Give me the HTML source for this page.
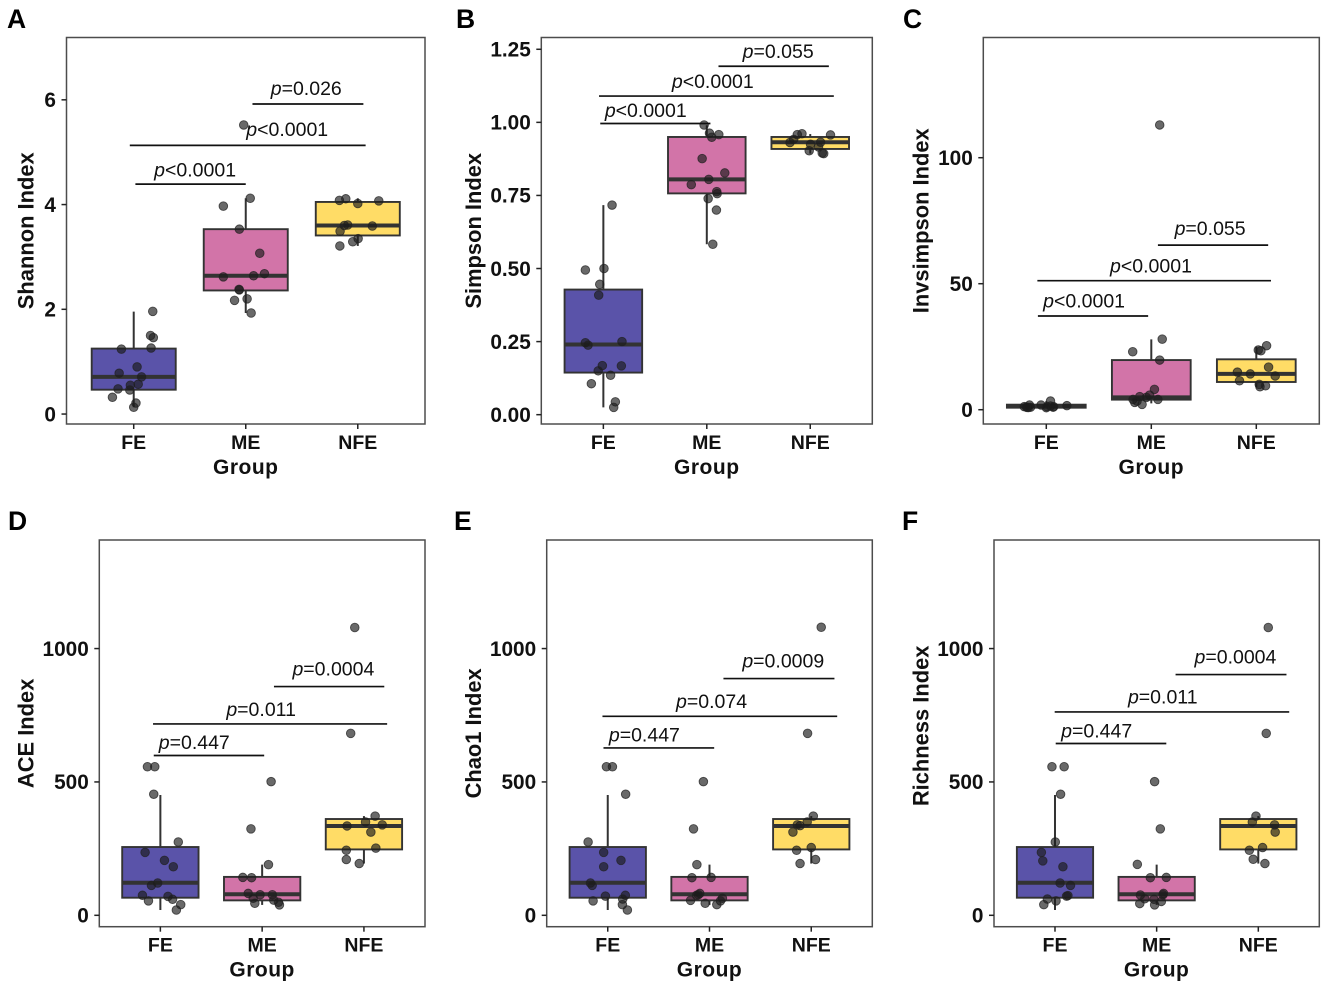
<!DOCTYPE html>
<html lang="en">
<head>
<meta charset="utf-8">
<title>Alpha diversity box plots</title>
<style>
html,body{margin:0;padding:0;background:#fff;width:1325px;height:987px;overflow:hidden}
svg{display:block;font-family:"Liberation Sans",Arial,sans-serif;filter:blur(0.35px)}
</style>
</head>
<body>
<svg id="figure" xmlns="http://www.w3.org/2000/svg" width="1325" height="987" viewBox="0 0 1325 987"></svg>
<script>
const groups = ['FE', 'ME', 'NFE'];

/* Panel A: Shannon */
const shannonValues = [
  [1.96,1.50,1.46,1.24,1.26,0.90,0.78,0.71,0.55,0.57,0.48,0.46,0.32,0.21,0.13],
  [5.52,4.12,3.97,3.53,3.07,2.62,2.64,2.68,2.38,2.37,2.17,2.20,1.93],
  [4.08,4.11,4.02,4.07,3.60,3.61,3.59,3.49,3.35,3.29,3.21]
];
const shannonJitter = [
  [0.17,0.15,0.175,-0.11,0.155,0.03,-0.13,0.07,-0.03,0.04,-0.14,-0.035,-0.19,0.02,0],
  [-0.018,0.04,-0.2,-0.057,0.125,-0.2,0.07,0.167,-0.06,-0.057,-0.1,0.012,0.048],
  [-0.164,-0.107,0,0.1875,-0.12,-0.09,0.13,-0.158,0.003,-0.045,-0.16]
];
const shannonBoxes = [[0.13,0.465,0.71,1.25,1.955],[1.93,2.36,2.64,3.53,4.12],[3.21,3.41,3.6,4.05,4.12]];
const shannonTicks = [0,2,4,6];
const shannonTickLabels = ['0','2','4','6'];
const shannonPValues = ['p=0.026','p<0.0001','p<0.0001'];
const shannonBracketLevels = [5.92,5.13,4.39];
const shannonBracketStarts = [2.06,0.965,1.015];
const shannonBracketEnds = [3.05,3.07,2.0];
const shannonLabelCenters = [2.54,2.37,1.548];

/* Panel B: Simpson */
const simpsonValues = [
  [0.717,0.495,0.5,0.446,0.409,0.246,0.238,0.25,0.168,0.167,0.15,0.135,0.106,0.044,0.025],
  [0.991,0.963,0.958,0.949,0.876,0.827,0.805,0.787,0.763,0.756,0.739,0.7,0.583],
  [0.957,0.961,0.958,0.942,0.931,0.932,0.925,0.903,0.895,0.893,0.916]
];
const simpsonJitter = [
  [0.084,-0.174,0.006,-0.035,-0.045,-0.174,-0.148,0.18,-0.01,0.174,-0.05,0.07,-0.116,0.116,0.1],
  [-0.026,0.026,0.116,0.048,-0.045,0.174,0.019,-0.15,0.096,0.1,0.013,0.093,0.058],
  [0.196,-0.08,-0.125,-0.16,-0.196,0.1,0.003,-0.01,0.116,0.13,0.08]
];
const simpsonBoxes = [[0.025,0.144,0.24,0.428,0.717],[0.583,0.757,0.805,0.95,0.99],[0.893,0.909,0.932,0.95,0.96]];
const simpsonTicks = [0,0.25,0.5,0.75,1,1.25];
const simpsonTickLabels = ['0.00','0.25','0.50','0.75','1.00','1.25'];
const simpsonPValues = ['p=0.055','p<0.0001','p<0.0001'];
const simpsonBracketLevels = [1.192,1.09,0.996];
const simpsonBracketStarts = [2.113,0.958,0.97];
const simpsonBracketEnds = [3.18,3.228,2.035];
const simpsonLabelCenters = [2.69,2.058,1.41];

/* Panel C: Invsimpson */
const invsimpsonValues = [
  [1.85,1.2,0.93,1.0,1.85,3.44,1.2,1.45,1.2,1.6,0.9,1.1,0.8,1.0],
  [113,28,23,19.7,8.07,5.8,5.2,4.9,4.1,4.1,3.4,2.9,2.1],
  [25.4,23.4,23.7,16.9,14.9,14.2,13.4,11.5,10.05,9.1,9.5]
];
const invsimpsonJitter = [
  [-0.16,-0.21,-0.183,-0.15,-0.05,0.04,0.006,0.04,0.07,0.196,-0.17,-0.19,0,0.065],
  [0.08,0.104,-0.177,0.08,0.03,-0.016,-0.11,-0.047,0.063,-0.174,-0.136,-0.158,-0.088],
  [0.098,0.044,0.019,0.117,-0.18,-0.057,0.18,-0.16,0.028,0.035,0.088]
];
const invsimpsonBoxes = [[0.9,0.8,1.45,2,3.4],[2.5,4,4.9,19.7,27.9],[9,11,14.2,20,25]];
const invsimpsonTicks = [0,50,100];
const invsimpsonTickLabels = ['0','50','100'];
const invsimpsonPValues = ['p=0.055','p<0.0001','p<0.0001'];
const invsimpsonBracketLevels = [65.3,51.2,37.2];
const invsimpsonBracketStarts = [2.063,0.915,0.92];
const invsimpsonBracketEnds = [3.113,3.14,1.97];
const invsimpsonLabelCenters = [2.56,1.997,1.36];

/* Panel D: ACE */
const aceValues = [
  [557,557,454,275,236,206,182,121,112,75,71,54,60,40,20],
  [501,324,190,142,141,82,77,77,64,57,49,45,39],
  [1079,682,372,350,339,335,312,244,252,209,194]
];
const aceJitter = [
  [-0.127,-0.055,-0.065,0.176,-0.15,0.04,0.127,-0.026,-0.088,-0.176,0.075,-0.117,0.12,0.2,0.157],
  [0.088,-0.11,0.062,-0.19,-0.104,-0.137,-0.02,0.1,-0.088,0.114,0.16,-0.072,0.17],
  [-0.09,-0.13,0.11,0.016,0.18,-0.166,0.068,-0.173,0.117,-0.173,-0.046]
];
const aceBoxes = [[20,66,122,256,451],[39,56,79,144,190],[194,247,335,361,372]];
const aceTicks = [0,500,1000];
const aceTickLabels = ['0','500','1000'];
const acePValues = ['p=0.0004','p=0.011','p=0.447'];
const aceBracketLevels = [857.5,717.5,599];
const aceBracketStarts = [2.116,0.928,0.935];
const aceBracketEnds = [3.2,3.228,2.02];
const aceLabelCenters = [2.70,1.99,1.333];

/* Panel E: Chao1 */
const chaoValues = [
  [557,557,454,275,236,206,182,121,112,72,75,54,61,40,20],
  [501,324,190,141,142,82,77,75,64,56,54,45,40],
  [1080,682,372,350,336,339,312,254,244,209,194]
];
const chaoJitter = [
  [-0.013,0.046,0.176,-0.193,-0.04,0.13,-0.04,-0.17,-0.153,-0.023,0.173,-0.144,0.147,0.144,0.193],
  [-0.06,-0.157,-0.124,-0.173,0.016,-0.095,-0.11,-0.127,0.127,-0.186,0.108,-0.042,0.072],
  [0.098,-0.036,0.02,-0.04,-0.11,-0.137,-0.18,0,-0.144,0.042,-0.11]
];
const chaoBoxes = [[20,66,122,256,451],[39,56,79,144,190],[194,247,335,361,372]];
const chaoTicks = [0,500,1000];
const chaoTickLabels = ['0','500','1000'];
const chaoPValues = ['p=0.0009','p=0.074','p=0.447'];
const chaoBracketLevels = [887.5,746,627.5];
const chaoBracketStarts = [2.137,0.948,0.958];
const chaoBracketEnds = [3.228,3.255,2.046];
const chaoLabelCenters = [2.725,2.02,1.36];

/* Panel F: Richness */
const richnessValues = [
  [557,557,454,275,236,204,182,121,112,74,72,61,54,40],
  [501,324,191,141,142,76,82,77,62,60,52,44,39],
  [1079,682,372,350,339,312,254,244,210,194]
];
const richnessJitter = [
  [-0.03,0.09,0.055,0.003,-0.134,-0.12,0.078,0.05,0.153,0.127,0.114,-0.075,0.01,-0.11],
  [-0.02,0.036,-0.19,-0.062,0.095,-0.16,0.068,0.062,-0.117,-0.026,0.046,-0.166,-0.02],
  [0.098,0.078,-0.023,-0.059,0.16,0.166,0.042,-0.088,-0.05,0.065]
];
const richnessBoxes = [[20,66,122,256,451],[39,56,79,144,190],[194,247,335,361,372]];
const richnessTicks = [0,500,1000];
const richnessTickLabels = ['0','500','1000'];
const richnessPValues = ['p=0.0004','p=0.011','p=0.447'];
const richnessBracketLevels = [902.5,762.5,644];
const richnessBracketStarts = [2.186,0.997,1.007];
const richnessBracketEnds = [3.277,3.304,2.095];
const richnessLabelCenters = [2.775,2.06,1.41];

const SVG_NS = 'http://www.w3.org/2000/svg';
const figure = document.getElementById('figure');

function make(parent, tag, attrs, text) {
  const node = document.createElementNS(SVG_NS, tag);
  Object.keys(attrs).forEach(function (k) { node.setAttribute(k, attrs[k]); });
  if (text !== undefined) node.textContent = text;
  parent.appendChild(node);
  return node;
}

function drawPanel(p) {
  const panel = make(figure, 'g', {});
  
  

  const xScale = function (v) { return p.left + (v - 0.4) / 3.2 * (p.right - p.left); };
  const yScale = function (v) { return p.bottom - (v - p.yMin) / (p.yMax - p.yMin) * (p.bottom - p.top); };

  const letter = make(panel, 'text', { x: p.letterX, y: p.letterY, 'font-size': 26.5, 'font-weight': 700, fill: '#000' }, p.letter);
  
  

  const frame = make(panel, 'rect', { x: p.left, y: p.top, width: p.right - p.left, height: p.bottom - p.top, fill: '#fff', stroke: '#4d4d4d', 'stroke-width': 1.5 });
  
  

  p.ticks.forEach(function (t, i) {
    const y = yScale(t);
    const tick = make(panel, 'line', { x1: p.left - 5, x2: p.left, y1: y, y2: y, stroke: '#222', 'stroke-width': 1.5 });
    
    
    const label = make(panel, 'text', { x: p.left - 10.5, y: y + 7.3, 'font-size': 20.8, 'font-weight': 700, 'text-anchor': 'end', fill: '#111' }, p.tickLabels[i]);
    
    
  });

  groups.forEach(function (g, i) {
    const x = xScale(i + 1);
    const tick = make(panel, 'line', { x1: x, x2: x, y1: p.bottom, y2: p.bottom + 5, stroke: '#222', 'stroke-width': 1.5 });
    
    
    const label = make(panel, 'text', { x: x, y: p.bottom + 25, 'font-size': 19.5, 'font-weight': 700, 'text-anchor': 'middle', fill: '#111' }, g);
    
    
  });

  const xTitle = make(panel, 'text', { x: (p.left + p.right) / 2, y: p.bottom + 50, 'font-size': 21, 'font-weight': 700, 'letter-spacing': 0.5, 'text-anchor': 'middle', fill: '#111' }, 'Group');
  
  

  const midY = (p.top + p.bottom) / 2 + (p.titleShift || 0);
  const yTitle = make(panel, 'text', { x: 0, y: 0, transform: 'translate(' + p.titleX + ',' + midY + ') rotate(-90)', 'font-size': 21.9, 'font-weight': 700, 'text-anchor': 'middle', fill: '#111' }, p.title);
  
  

  p.boxes.forEach(function (b, i) {
    const cx = xScale(i + 1);
    const half = (p.right - p.left) / 3.2 * 0.375;
    const whisker = make(panel, 'line', { x1: cx, x2: cx, y1: yScale(b[0]), y2: yScale(b[4]), stroke: '#333', 'stroke-width': 2 });
    
    
    const box = make(panel, 'rect', { x: cx - half, y: yScale(b[3]), width: half * 2, height: yScale(b[1]) - yScale(b[3]), fill: ['#5a53a9', '#d274a8', '#ffdc66'][i], stroke: '#333', 'stroke-width': 1.9 });
    
    
    const median = make(panel, 'line', { x1: cx - half, x2: cx + half, y1: yScale(b[2]), y2: yScale(b[2]), stroke: '#333', 'stroke-width': 4 });
    
    
  });

  p.values.forEach(function (series, i) {
    series.forEach(function (v, j) {
      const dot = make(panel, 'circle', { cx: xScale(i + 1 + p.jitter[i][j]), cy: yScale(v), r: 4.3, fill: '#1c1c1c', 'fill-opacity': 0.66, stroke: '#222', 'stroke-opacity': 0.75, 'stroke-width': 0.9 });
      
      
    });
  });

  p.pValues.forEach(function (label, i) {
    const y = yScale(p.levels[i]);
    const bracket = make(panel, 'line', { x1: xScale(p.starts[i]), x2: xScale(p.ends[i]), y1: y, y2: y, stroke: '#111', 'stroke-width': 1.7 });
    
    
    const txt = make(panel, 'text', { x: xScale(p.centers[i]), y: y - p.labelGaps[i], 'font-size': 19.5, 'text-anchor': 'middle', fill: '#111' });
    
    
    make(txt, 'tspan', { 'font-style': 'italic' }, label.charAt(0));
    make(txt, 'tspan', {}, label.slice(1));
  });
}

drawPanel({ letter: 'A', letterX: 7, letterY: 28, title: 'Shannon Index', titleX: 33.5, left: 66.5, right: 425, top: 37.5, bottom: 424, yMin: -0.19, yMax: 7.19,
  values: shannonValues, jitter: shannonJitter, boxes: shannonBoxes, ticks: shannonTicks, tickLabels: shannonTickLabels,
  pValues: shannonPValues, levels: shannonBracketLevels, starts: shannonBracketStarts, ends: shannonBracketEnds, centers: shannonLabelCenters, labelGaps: [9, 9.3, 7.7] });

drawPanel({ letter: 'B', letterX: 456, letterY: 28, title: 'Simpson Index', titleX: 481, left: 541.3, right: 872.3, top: 37.5, bottom: 424, yMin: -0.0319, yMax: 1.2903,
  values: simpsonValues, jitter: simpsonJitter, boxes: simpsonBoxes, ticks: simpsonTicks, tickLabels: simpsonTickLabels,
  pValues: simpsonPValues, levels: simpsonBracketLevels, starts: simpsonBracketStarts, ends: simpsonBracketEnds, centers: simpsonLabelCenters, labelGaps: [8, 8, 6.3] });

drawPanel({ letter: 'C', letterX: 903, letterY: 28, title: 'Invsimpson Index', titleX: 928.5, titleShift: -10, left: 983.3, right: 1319.3, top: 37.5, bottom: 424, yMin: -5.67, yMax: 147.7,
  values: invsimpsonValues, jitter: invsimpsonJitter, boxes: invsimpsonBoxes, ticks: invsimpsonTicks, tickLabels: invsimpsonTickLabels,
  pValues: invsimpsonPValues, levels: invsimpsonBracketLevels, starts: invsimpsonBracketStarts, ends: invsimpsonBracketEnds, centers: invsimpsonLabelCenters, labelGaps: [10, 8.3, 8.3] });

drawPanel({ letter: 'D', letterX: 8, letterY: 530, title: 'ACE Index', titleX: 33.5, left: 99.3, right: 425, top: 540, bottom: 926.7, yMin: -42.7, yMax: 1407,
  values: aceValues, jitter: aceJitter, boxes: aceBoxes, ticks: aceTicks, tickLabels: aceTickLabels,
  pValues: acePValues, levels: aceBracketLevels, starts: aceBracketStarts, ends: aceBracketEnds, centers: aceLabelCenters, labelGaps: [11, 8, 6.3] });

drawPanel({ letter: 'E', letterX: 454, letterY: 530, title: 'Chao1 Index', titleX: 481, left: 546.7, right: 872.3, top: 540, bottom: 926.7, yMin: -42.7, yMax: 1407,
  values: chaoValues, jitter: chaoJitter, boxes: chaoBoxes, ticks: chaoTicks, tickLabels: chaoTickLabels,
  pValues: chaoPValues, levels: chaoBracketLevels, starts: chaoBracketStarts, ends: chaoBracketEnds, centers: chaoLabelCenters, labelGaps: [11, 8.3, 6.3] });

drawPanel({ letter: 'F', letterX: 902, letterY: 530, title: 'Richness Index', titleX: 928.5, titleShift: -7.5, left: 994, right: 1319.3, top: 540, bottom: 926.7, yMin: -42.7, yMax: 1407,
  values: richnessValues, jitter: richnessJitter, boxes: richnessBoxes, ticks: richnessTicks, tickLabels: richnessTickLabels,
  pValues: richnessPValues, levels: richnessBracketLevels, starts: richnessBracketStarts, ends: richnessBracketEnds, centers: richnessLabelCenters, labelGaps: [11.3, 8.3, 6] });
</script>
</body>
</html>
